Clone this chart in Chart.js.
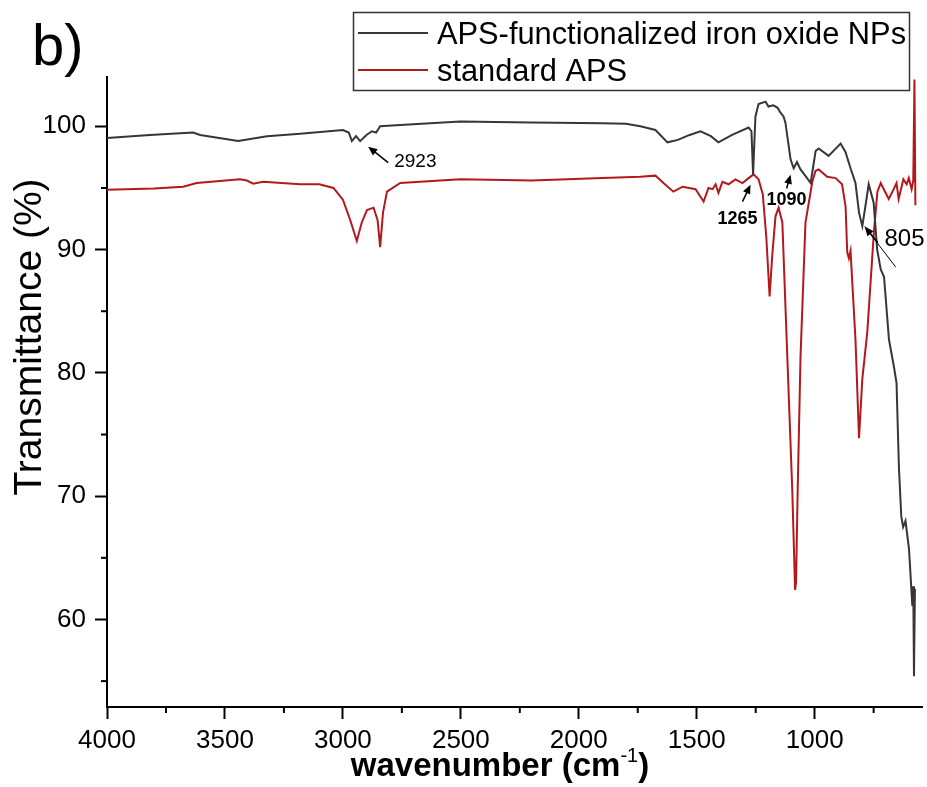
<!DOCTYPE html>
<html lang="en">
<head>
    <meta charset="UTF-8">
    <title>FTIR spectra</title>
    <script src="https://cdn.jsdelivr.net/npm/chart.js"></script>
    <style>
        body { margin: 0; background: #fff; }
        #chart { display: block; }
    </style>
</head>
<body>
    <canvas id="chart" width="927" height="787"></canvas>

    <script>
        // APS-functionalized iron oxide NPs (wavenumber, transmittance)
        const wnNP = [4000, 3818, 3635, 3605, 3444, 3322, 3181, 3000, 2975, 2962, 2944, 2927, 2900, 2877, 2859, 2842, 2757, 2502, 2200, 1900, 1800, 1739, 1675, 1624, 1580, 1530, 1484, 1440, 1408, 1350, 1280, 1268, 1261, 1255, 1251, 1238, 1208, 1196, 1175, 1157, 1145, 1132, 1124, 1102, 1089, 1075, 1060, 1040, 1017, 996, 983, 941, 890, 869, 848, 827, 812, 798, 785, 771, 750, 735, 720, 706, 685, 664, 653, 643, 633, 625, 615, 600, 586, 582, 579, 575];
        const tNP = [99.05, 99.3, 99.5, 99.3, 98.8, 99.2, 99.4, 99.7, 99.5, 98.8, 99.2, 98.8, 99.3, 99.6, 99.5, 100.0, 100.1, 100.4, 100.3, 100.25, 100.2, 100.0, 99.7, 98.7, 98.9, 99.3, 99.6, 99.2, 98.7, 99.3, 99.9, 99.6, 96.1, 99.0, 100.8, 101.8, 102.0, 101.6, 101.7, 101.5, 101.1, 100.8, 100.3, 97.3, 96.6, 97.1, 96.5, 96.0, 95.4, 98.0, 98.2, 97.6, 98.6, 97.9, 96.6, 95.4, 93.0, 91.9, 93.5, 95.3, 93.8, 90.0, 88.4, 87.8, 82.7, 80.5, 79.2, 72.4, 68.4, 67.5, 68.0, 65.7, 61.1, 62.7, 55.4, 62.5];

        // standard APS (wavenumber, transmittance)
        const wnStd = [4000, 3800, 3677, 3620, 3436, 3407, 3380, 3338, 3181, 3100, 3040, 3000, 2969, 2941, 2920, 2898, 2870, 2853, 2842, 2830, 2813, 2757, 2502, 2200, 1900, 1739, 1675, 1641, 1599, 1560, 1505, 1471, 1450, 1433, 1420, 1408, 1391, 1365, 1336, 1306, 1280, 1259, 1238, 1220, 1205, 1191, 1180, 1166, 1153, 1137, 1116, 1095, 1083, 1079, 1072, 1060, 1039, 1010, 996, 983, 947, 911, 884, 869, 862, 855, 848, 827, 812, 798, 777, 749, 734, 720, 707, 686, 665, 653, 644, 624, 610, 601, 589, 582, 577, 573];
        const tStd = [94.85, 94.95, 95.1, 95.4, 95.7, 95.6, 95.35, 95.5, 95.3, 95.3, 95.0, 94.05, 92.4, 90.7, 92.2, 93.2, 93.4, 92.4, 90.2, 93.0, 94.7, 95.4, 95.7, 95.6, 95.8, 95.9, 96.0, 95.4, 94.7, 95.1, 94.9, 93.9, 95.0, 94.9, 95.3, 94.6, 95.5, 95.3, 95.7, 95.4, 95.8, 96.1, 95.7, 94.5, 91.0, 86.2, 89.5, 92.7, 93.4, 92.2, 81.3, 70.5, 62.4, 63.0, 70.5, 81.3, 92.2, 95.5, 96.4, 96.5, 95.9, 95.8, 95.3, 93.5, 89.8, 89.3, 89.9, 82.7, 74.7, 79.5, 83.3, 91.4, 94.7, 95.4, 94.9, 94.1, 94.9, 95.4, 94.1, 95.7, 95.3, 95.8, 94.9, 95.6, 103.8, 93.6];

        const seriesLabels = ['APS-functionalized iron oxide NPs', 'standard APS'];
        const seriesColors = ['#363636', '#b3191c'];

        const xTicks = [4000, 3500, 3000, 2500, 2000, 1500, 1000];
        const xMinor = [3750, 3250, 2750, 2250, 1750, 1250, 750];
        const yTicks = [60, 70, 80, 90, 100];
        const yMinor = [55, 65, 75, 85, 95];

        // peak labels: text position and arrow in data units
        const peakNotes = [
            { text: '2923', x: 2693, y: 97.14, size: 19, bold: false, from: [2808, 97.06], to: [2893, 98.35] },
            { text: '1265', x: 1327, y: 92.51, size: 18, bold: true, from: [1306, 93.89], to: [1272, 95.27] },
            { text: '1090', x: 1119, y: 94.06, size: 18, bold: true, from: [1119, 94.95], to: [1102, 96.08] },
            { text: '805', x: 619, y: 90.81, size: 24, bold: false, from: [733, 90.57], to: [788, 91.87], leader: [657, 88.6] }
        ];

        const FONT = "'Liberation Sans', Arial, sans-serif";

        function toPoints(xs, ys) {
            return xs.map((x, i) => ({ x: x, y: ys[i] }));
        }

        function arrow(ctx, x0, y0, x1, y1, head) {
            const a = Math.atan2(y1 - y0, x1 - x0);
            ctx.beginPath();
            ctx.moveTo(x0, y0);
            ctx.lineTo(x1 - Math.cos(a) * head * 0.8, y1 - Math.sin(a) * head * 0.8);
            ctx.stroke();
            ctx.beginPath();
            ctx.moveTo(x1, y1);
            ctx.lineTo(x1 - head * Math.cos(a - 0.4), y1 - head * Math.sin(a - 0.4));
            ctx.lineTo(x1 - head * Math.cos(a + 0.4), y1 - head * Math.sin(a + 0.4));
            ctx.closePath();
            ctx.fill();
        }

        // minor ticks, titles, legend box and peak labels
        const decorations = {
            id: 'decorations',
            afterDraw(chart) {
                const ctx = chart.ctx;
                const xs = chart.scales.x, ys = chart.scales.y;
                const area = chart.chartArea;
                ctx.save();
                ctx.strokeStyle = '#000';
                ctx.lineWidth = 2;
                xMinor.forEach(v => {
                    const px = xs.getPixelForValue(v);
                    ctx.beginPath();
                    ctx.moveTo(px, area.bottom);
                    ctx.lineTo(px, area.bottom + 6);
                    ctx.stroke();
                });
                yMinor.forEach(v => {
                    const py = ys.getPixelForValue(v);
                    ctx.beginPath();
                    ctx.moveTo(area.left, py);
                    ctx.lineTo(area.left - 6, py);
                    ctx.stroke();
                });

                // panel letter
                ctx.fillStyle = '#000';
                ctx.textAlign = 'left';
                ctx.textBaseline = 'alphabetic';
                ctx.font = '58px ' + FONT;
                ctx.fillText('b)', 32, 65);

                // y title
                ctx.save();
                ctx.translate(41, 337);
                ctx.rotate(-Math.PI / 2);
                ctx.textAlign = 'center';
                ctx.font = '39px ' + FONT;
                ctx.fillText('Transmittance (%)', 0, 0);
                ctx.restore();

                // x title with superscript
                ctx.font = 'bold 33px ' + FONT;
                const t1 = 'wavenumber (cm', sup = '-1', t2 = ')';
                const w1 = ctx.measureText(t1).width;
                const w3 = ctx.measureText(t2).width;
                ctx.font = '20px ' + FONT;
                const w2 = ctx.measureText(sup).width;
                let x0 = 500 - (w1 + w2 + w3) / 2;
                const base = 776;
                ctx.font = 'bold 33px ' + FONT;
                ctx.fillText(t1, x0, base);
                ctx.font = '20px ' + FONT;
                ctx.fillText(sup, x0 + w1, base - 14);
                ctx.font = 'bold 33px ' + FONT;
                ctx.fillText(t2, x0 + w1 + w2, base);

                // legend
                ctx.strokeStyle = '#333';
                ctx.lineWidth = 1.5;
                ctx.strokeRect(353.5, 12.5, 556, 78);
                ctx.font = '30.8px ' + FONT;
                chart.data.datasets.forEach((ds, i) => {
                    const ly = 33 + i * 37;
                    ctx.strokeStyle = ds.borderColor;
                    ctx.lineWidth = 2;
                    ctx.beginPath();
                    ctx.moveTo(358, ly);
                    ctx.lineTo(428, ly);
                    ctx.stroke();
                    ctx.fillStyle = '#000';
                    ctx.fillText(ds.label, 437, ly + 10.5);
                });

                // peak labels
                ctx.fillStyle = '#000';
                ctx.strokeStyle = '#000';
                peakNotes.forEach(n => {
                    ctx.font = (n.bold ? 'bold ' : '') + n.size + 'px ' + FONT;
                    ctx.textAlign = 'center';
                    ctx.textBaseline = 'middle';
                    ctx.fillText(n.text, xs.getPixelForValue(n.x), ys.getPixelForValue(n.y));
                    const fx = xs.getPixelForValue(n.from[0]), fy = ys.getPixelForValue(n.from[1]);
                    const tx = xs.getPixelForValue(n.to[0]), ty = ys.getPixelForValue(n.to[1]);
                    ctx.lineWidth = 1.5;
                    arrow(ctx, fx, fy, tx, ty, 10);
                    if (n.leader) {
                        ctx.lineWidth = 1;
                        ctx.beginPath();
                        ctx.moveTo(tx, ty);
                        ctx.lineTo(xs.getPixelForValue(n.leader[0]), ys.getPixelForValue(n.leader[1]));
                        ctx.stroke();
                    }
                });
                ctx.restore();
            }
        };

        new Chart(document.getElementById('chart'), {
            type: 'line',
            data: {
                datasets: [
                    { label: seriesLabels[0], data: toPoints(wnNP, tNP), borderColor: seriesColors[0] },
                    { label: seriesLabels[1], data: toPoints(wnStd, tStd), borderColor: seriesColors[1] }
                ]
            },
            options: {
                responsive: false,
                animation: false,
                layout: { padding: { top: 77, right: 5, left: 0, bottom: 0 } },
                elements: {
                    point: { radius: 0 },
                    line: { borderWidth: 2, tension: 0, fill: false }
                },
                plugins: {
                    legend: { display: false },
                    tooltip: { enabled: false }
                },
                scales: {
                    x: {
                        type: 'linear',
                        reverse: true,
                        min: 545,
                        max: 4000,
                        afterBuildTicks: s => { s.ticks = xTicks.map(v => ({ value: v })); },
                        afterFit: s => { s.height = 80; },
                        border: { display: true, color: '#000', width: 2 },
                        grid: { drawOnChartArea: false, drawTicks: true, tickLength: 12, tickWidth: 2, tickColor: '#000' },
                        ticks: { color: '#000', font: { family: FONT, size: 26 }, padding: 6, maxRotation: 0, callback: v => String(v) }
                    },
                    y: {
                        min: 52.9,
                        max: 104,
                        afterBuildTicks: s => { s.ticks = yTicks.map(v => ({ value: v })); },
                        afterFit: s => { s.width = 107; },
                        border: { display: true, color: '#000', width: 2 },
                        grid: { drawOnChartArea: false, drawTicks: true, tickLength: 12, tickWidth: 2, tickColor: '#000' },
                        ticks: { color: '#000', font: { family: FONT, size: 26 }, padding: 9, callback: v => String(v) }
                    }
                }
            },
            plugins: [decorations]
        });
    </script>
</body>
</html>
